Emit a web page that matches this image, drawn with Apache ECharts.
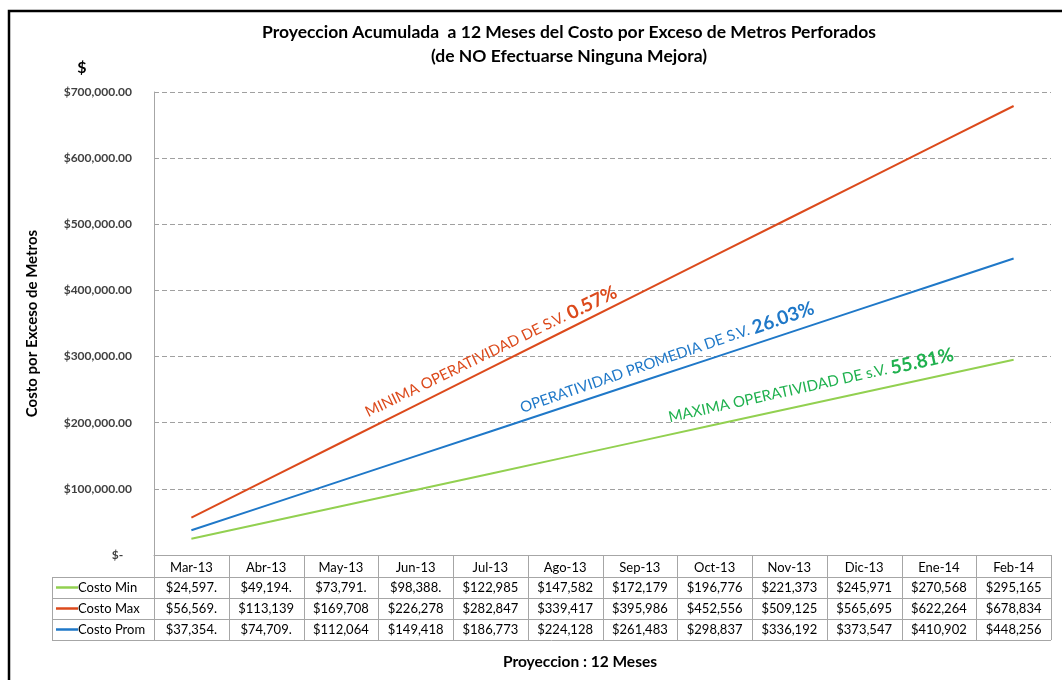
<!DOCTYPE html>
<html>
<head>
<meta charset="utf-8">
<script src="https://cdn.jsdelivr.net/npm/echarts@6/dist/echarts.min.js"></script>
<style>
  html, body { margin: 0; padding: 0; background: #fff; }
  #chart { width: 1062px; height: 680px; }
</style>
</head>
<body>
<div id="chart"></div>
<script>
// categorias del eje x
var meses = ['Mar-13', 'Abr-13', 'May-13', 'Jun-13', 'Jul-13', 'Ago-13', 'Sep-13', 'Oct-13', 'Nov-13', 'Dic-13', 'Ene-14', 'Feb-14']
var costoMin = [24597, 49194, 73791, 98388, 122985, 147582, 172179, 196776, 221373, 245971, 270568, 295165]
var costoMax = [56569, 113139, 169708, 226278, 282847, 339417, 395986, 452556, 509125, 565695, 622264, 678834]
var costoProm = [37354, 74709, 112064, 149418, 186773, 224128, 261483, 298837, 336192, 373547, 410902, 448256]
var yTicks = [0, 100000, 200000, 300000, 400000, 500000, 600000, 700000]

var FONT = 'Lato, "Noto Sans", sans-serif'
var colMin = '#92d050'
var colMax = '#dc4a1c'
var colProm = '#1f78c8'
var colVerde = '#1fb14e'

function money(v) {
  return '$' + v.toLocaleString('en-US', { minimumFractionDigits: 2, maximumFractionDigits: 2 })
}

var chart = echarts.init(document.getElementById('chart'))

chart.setOption({
  backgroundColor: '#fff',
  animation: false,
  textStyle: { fontFamily: FONT },
  grid: { left: 154, right: 11, top: 92, bottom: 125 },
  xAxis: {
    type: 'category',
    data: meses,
    boundaryGap: true,
    axisLine: { lineStyle: { color: '#a6a6a6' } },
    axisTick: { show: false },
    axisLabel: { color: '#000', fontSize: 13, margin: 6, fontFamily: FONT }
  },
  yAxis: {
    type: 'value',
    min: yTicks[0],
    max: yTicks[yTicks.length - 1],
    interval: 100000,
    name: 'Costo por Exceso de Metros',
    nameLocation: 'middle',
    nameGap: 114,
    nameTextStyle: { fontWeight: 'bold', fontSize: 15, color: '#000', fontFamily: FONT },
    axisLine: { show: true, lineStyle: { color: '#a6a6a6' } },
    axisTick: { show: false },
    axisLabel: {
      color: '#404040',
      fontSize: 12,
      margin: 22,
      fontWeight: 'bold',
      fontFamily: FONT,
      formatter: function (v) { return v === 0 ? '$-   ' : money(v) }
    },
    splitLine: { lineStyle: { color: '#a0a0a0', type: [5, 3] } }
  },
  series: [
    { name: 'Costo Min', type: 'line', data: costoMin, symbol: 'none', lineStyle: { color: colMin, width: 2 } },
    { name: 'Costo Max', type: 'line', data: costoMax, symbol: 'none', lineStyle: { color: colMax, width: 2 } },
    { name: 'Costo Prom', type: 'line', data: costoProm, symbol: 'none', lineStyle: { color: colProm, width: 2 } }
  ]
})

function nota(x, y, angle, texto, pct, color) {
  return {
    type: 'text', x: x, y: y, rotation: angle * Math.PI / 180,
    style: {
      text: '{a|' + texto + '}{b|' + pct + '}', textAlign: 'center', textVerticalAlign: 'middle',
      rich: {
        a: { fontSize: 15, fontFamily: FONT, fill: color },
        b: { fontSize: 19, fontWeight: 'bold', fontFamily: FONT, fill: color }
      }
    }
  }
}

// tabla de datos debajo del eje
function buildTable() {
  var x0 = chart.convertToPixel({ xAxisIndex: 0 }, 0)
  var x1 = chart.convertToPixel({ xAxisIndex: 0 }, 1)
  var band = x1 - x0
  var left = x0 - band / 2
  var right = left + band * meses.length
  var axisY = chart.convertToPixel({ yAxisIndex: 0 }, 0)
  var rowH = 21
  var headBottom = axisY + 22
  var legendLeft = 52
  var border = { stroke: '#a6a6a6', lineWidth: 1 }
  var els = []
  var rows = [
    { name: 'Costo Min', color: colMin, data: costoMin },
    { name: 'Costo Max', color: colMax, data: costoMax },
    { name: 'Costo Prom', color: colProm, data: costoProm }
  ]
  var tableBottom = headBottom + rowH * rows.length

  // lineas verticales
  for (var i = 0; i <= meses.length; i++) {
    var xx = Math.round(left + band * i) + 0.5
    els.push({ type: 'line', shape: { x1: xx, y1: axisY, x2: xx, y2: tableBottom }, style: border })
  }
  els.push({ type: 'line', shape: { x1: legendLeft + 0.5, y1: headBottom, x2: legendLeft + 0.5, y2: tableBottom }, style: border })
  // lineas horizontales
  for (var r = 0; r <= rows.length; r++) {
    var yy = Math.round(headBottom + rowH * r) + 0.5
    els.push({ type: 'line', shape: { x1: legendLeft, y1: yy, x2: right, y2: yy }, style: border })
  }

  rows.forEach(function (row, r) {
    var cy = headBottom + rowH * r + rowH / 2
    els.push({ type: 'line', shape: { x1: legendLeft + 4, y1: cy, x2: legendLeft + 26, y2: cy }, style: { stroke: row.color, lineWidth: 2.5 } })
    els.push({ type: 'text', x: legendLeft + 26, y: cy, style: { text: row.name, font: '13px ' + FONT, fill: '#000', textAlign: 'left', textVerticalAlign: 'middle' } })
    row.data.forEach(function (v, i) {
      els.push({
        type: 'text',
        x: chart.convertToPixel({ xAxisIndex: 0 }, i),
        y: cy,
        style: { text: money(v).slice(0, 8), font: '13px ' + FONT, fill: '#000', textAlign: 'center', textVerticalAlign: 'middle' }
      })
    })
  })

  // titulos y anotaciones
  els.push(
    { type: 'rect', shape: { x: 9, y: 11, width: 1100, height: 720 }, style: { fill: 'none', stroke: '#000', lineWidth: 2.5 }, z: 10 },
    { type: 'text', x: 569, y: 32, style: { text: 'Proyeccion Acumulada  a 12 Meses del Costo por Exceso de Metros Perforados', font: 'bold 17.5px ' + FONT, fill: '#000', textAlign: 'center', textVerticalAlign: 'middle' } },
    { type: 'text', x: 569, y: 56, style: { text: '(de NO Efectuarse Ninguna Mejora)', font: 'bold 17.5px ' + FONT, fill: '#000', textAlign: 'center', textVerticalAlign: 'middle' } },
    { type: 'text', x: 82, y: 68, style: { text: '$', font: 'bold 16px ' + FONT, fill: '#000', textAlign: 'center', textVerticalAlign: 'middle' } },
    { type: 'text', x: 580, y: 662, style: { text: 'Proyeccion : 12 Meses', font: 'bold 15.5px ' + FONT, fill: '#000', textAlign: 'center', textVerticalAlign: 'middle' } },
    nota(491, 352, 26, 'MINIMA OPERATIVIDAD DE S.V. ', '0.57%', colMax),
    nota(667, 358, 19, 'OPERATIVIDAD PROMEDIA DE S.V. ', '26.03%', colProm),
    nota(811, 386, 12.5, 'MAXIMA OPERATIVIDAD DE s.V. ', '55.81%', colVerde)
  )

  chart.setOption({ graphic: els })
}

buildTable()
</script>
</body>
</html>
